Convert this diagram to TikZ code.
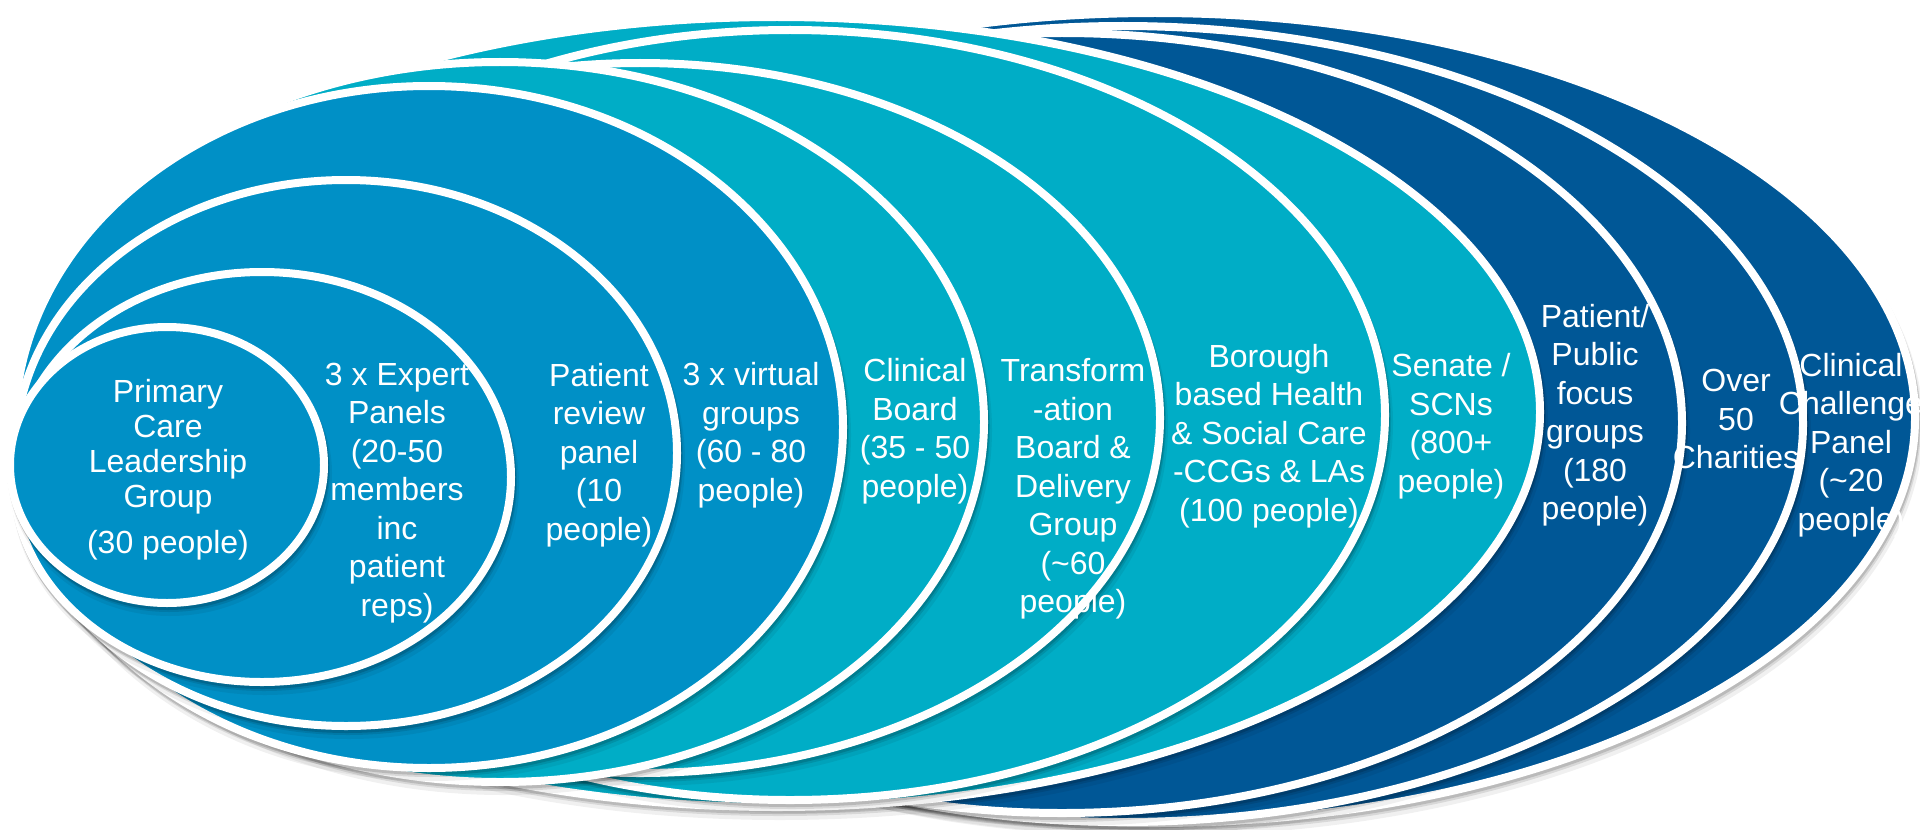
\documentclass[tikz,border=0pt]{standalone}
\usepackage{fontspec}
\setmainfont{Liberation Sans}
\definecolor{cmid}{HTML}{0090C6}
\definecolor{cteal}{HTML}{00ADC6}
\definecolor{cdark}{HTML}{005796}
% #1 cx, #2 cy, #3 rx, #4 ry (pixels), #5 colour
\newcommand\myblob[5]{%
  \fill[black,opacity=0.06] (#1+3,#2+8) ellipse [x radius={(#3+5)*0.5pt}, y radius={(#4+5)*0.5pt}];
  \fill[black,opacity=0.10] (#1+2,#2+5) ellipse [x radius={(#3+4)*0.5pt}, y radius={(#4+4)*0.5pt}];
  \fill[black,opacity=0.14] (#1+1,#2+3) ellipse [x radius={(#3+4)*0.5pt}, y radius={(#4+4)*0.5pt}];
  \filldraw[fill=#5,draw=white,line width=4pt] (#1,#2) ellipse [x radius={#3*0.5pt}, y radius={#4*0.5pt}];
}
\tikzset{
  lbl/.style={text=white, align=center, inner sep=0pt, font=\fontsize{16}{19.25}\selectfont},
  lbltight/.style={text=white, align=center, inner sep=0pt, font=\fontsize{16}{17.5}\selectfont}
}
\begin{document}
\begin{tikzpicture}[x=0.5pt,y=-0.5pt]
\useasboundingbox (0,0) rectangle (1920,829);
% outer to inner
\myblob{1155}{418}{760}{405}{cdark}
\myblob{1123}{424}{680}{398}{cdark}
\myblob{1062}{423}{620}{390}{cdark}
\myblob{777}{412}{763}{395}{cteal}
\myblob{790}{415}{595}{385}{cteal}
\myblob{640}{418}{520}{355}{cteal}
\myblob{500}{422}{484}{360}{cteal}
\myblob{429}{427}{414}{341}{cmid}
\myblob{346}{453}{331}{273}{cmid}
\myblob{262}{477}{249}{205}{cmid}
\myblob{167}{465}{157}{138}{cmid}
% labels
\node[lbltight] (t1) at (168,470) {Primary\\Care\\Leadership\\Group\\[5.5pt](30 people)};
\node[lbl] (t2) at (397,493) {3 x Expert\\Panels\\(20-50\\members\\inc\\patient\\reps)};
\node[lbl] (t3) at (599,455) {Patient\\review\\panel\\(10\\people)};
\node[lbl] (t4) at (751,435) {3 x virtual\\groups\\(60 - 80\\people)};
\node[lbl] (t5) at (915,431) {Clinical\\Board\\(35 - 50\\people)};
\node[lbl] (t6) at (1073,489) {Transform\\-ation\\Board \&\\Delivery\\Group\\(\textasciitilde 60\\people)};
\node[lbl] (t7) at (1269,436) {Borough\\based Health\\\& Social Care\\-CCGs \& LAs\\(100 people)};
\node[lbl] (t8) at (1451,426) {Senate /\\SCNs\\(800+\\people)};
\node[lbl] (t9) at (1595,415) {Patient/\\Public\\focus\\groups\\(180\\people)};
\node[lbl] (t10) at (1736,419) {Over\\50\\Charities};
\node[lbl] (t11) at (1851,445) {Clinical\\Challenge\\Panel\\(\textasciitilde 20\\people)};
\end{tikzpicture}
\end{document}
